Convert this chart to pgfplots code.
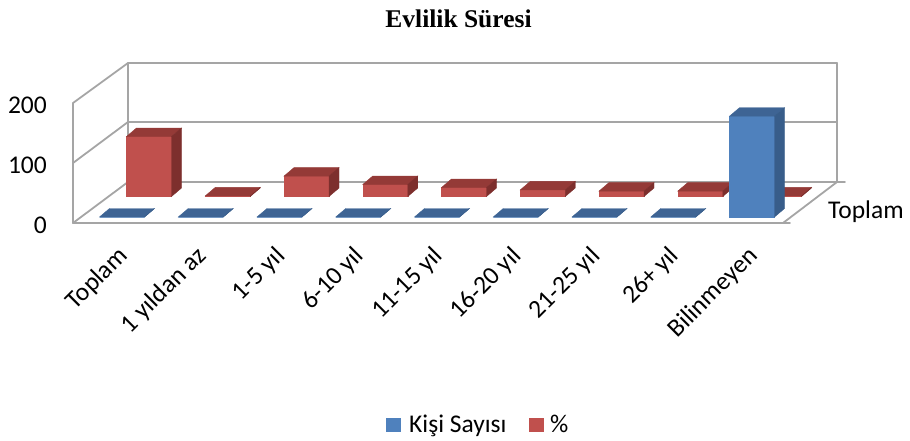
\documentclass[border=0pt]{standalone}
\usepackage{pgfplots}
\pgfplotsset{compat=1.18}
\usepackage{fontspec}
\setmainfont{Carlito}
\newfontfamily\titlefont{Liberation Serif}
\definecolor{blueF}{HTML}{4F81BD}
\definecolor{blueT}{HTML}{3E6494}
\definecolor{blueS}{HTML}{385D8A}
\definecolor{redF}{HTML}{C0504D}
\definecolor{redT}{HTML}{943A37}
\definecolor{redS}{HTML}{7D2F2D}
\definecolor{gridc}{HTML}{A5A5A5}
\newcommand\fsz{\fontsize{25.5}{30}\selectfont}
\pgfdeclareplotmark{empty}{}
% 3D-looking bar drawn at the data point (top of the front face); #4,#5 = depth offset of the row
\newcommand\barcode[5]{%
  \pgfmathsetmacro\hh{\val*0.6}%
  \pgfmathsetmacro\xl{#4-22.5}\pgfmathsetmacro\xr{#4+22.5}%
  \pgfmathsetmacro\xlb{#4-12.5}\pgfmathsetmacro\xrb{#4+32.5}%
  \pgfmathsetmacro\yt{#5}\pgfmathsetmacro\ytb{#5+8.5}%
  \pgfmathsetmacro\yb{#5-\hh}\pgfmathsetmacro\ybb{#5+8.5-\hh}%
  \fill[#1] (\xl pt,\yb pt) rectangle (\xr pt,\yt pt);
  \fill[#2] (\xl pt,\yt pt) -- (\xr pt,\yt pt) -- (\xrb pt,\ytb pt) -- (\xlb pt,\ytb pt) -- cycle;
  \fill[#3] (\xr pt,\yb pt) -- (\xr pt,\yt pt) -- (\xrb pt,\ytb pt) -- (\xrb pt,\ybb pt) -- cycle;}
\begin{document}
\begin{tikzpicture}
% ---- walls, floor, gridlines (pixel coordinates, y downwards)
\begin{scope}[x=1pt,y=-1pt,shift={(0pt,440pt)}]
  \begin{scope}[draw=gridc,line width=1.8pt,line cap=round]
    \draw (73,103) -- (73,223);
    \draw (73,103) -- (128,63);
    \draw (73,163) -- (128,122);
    \draw (73,223) -- (128,182);
    \draw (128,63) -- (837,63);
    \draw (128,122) -- (837,122);
    \draw (128,63) -- (128,182);
    \draw (837,63) -- (837,182);
    \draw (128,182) -- (845,182);
    \draw (73,223) -- (790,223);
    \draw (783,223) -- (837,182);
  \end{scope}
  \node[anchor=base] at (458.5,28) {\titlefont\bfseries\fsz Evlilik Süresi};
  \node[anchor=base west,inner sep=0pt] at (828,218) {\fsz Toplam};
  \fill[blueF] (386,418) rectangle (401,432);
  \node[anchor=base west,inner sep=0pt] at (409,432) {\fsz Kişi Sayısı};
  \fill[redF] (529,418) rectangle (544,432);
  \node[anchor=base west,inner sep=0pt] at (550,432) {\fsz \%};
\end{scope}
\begin{axis}[
  at={(82.625pt,223pt)}, anchor=south west,
  x=78.75pt, y=0.6pt,
  xmin=-0.5, xmax=8.5, ymin=0, ymax=250,
  clip=false,
  axis line style={draw=none},
  tick style={draw=none},
  xtick={0,...,8},
  xticklabels={Toplam,1 yıldan az,1-5 yıl,6-10 yıl,11-15 yıl,16-20 yıl,21-25 yıl,26+ yıl,Bilinmeyen},
  xticklabel style={xshift=2pt, yshift=-35pt, rotate=45, anchor=east, inner sep=0pt, font=\fsz},
  ytick={0,100,200},
  yticklabel style={anchor=east, inner sep=0pt, xshift=-35.6pt, yshift=-8pt, font=\fsz},
  /pgf/number format/assume math mode=true,
]
% % series (back row)
\addplot[scatter, only marks, mark=empty,
  visualization depends on={\thisrow{v} \as \val},
  scatter/@pre marker code/.code={\barcode{redF}{redT}{redS}{27}{20.5}},
  scatter/@post marker code/.code={}]
  table[x=x,y=v] {
x v
0 100
1 1
2 34
3 20
4 15
5 11
6 9
7 9
8 1
};
% Kişi Sayısı (front row)
\addplot[scatter, only marks, mark=empty,
  visualization depends on={\thisrow{v} \as \val},
  scatter/@pre marker code/.code={\barcode{blueF}{blueT}{blueS}{0}{0}},
  scatter/@post marker code/.code={}]
  table[x=x,y=v] {
x v
0 0
1 0
2 0
3 0
4 0
5 0
6 0
7 0
8 168
};
\end{axis}
\pgfresetboundingbox
\useasboundingbox (0,0) rectangle (910pt,440pt);
\end{tikzpicture}
\end{document}
